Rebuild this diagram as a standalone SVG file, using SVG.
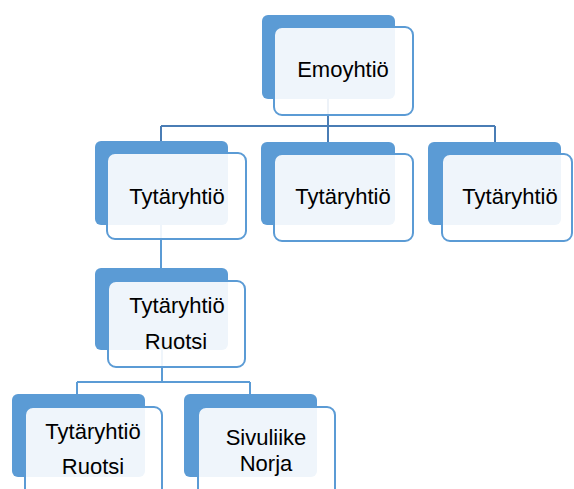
<svg xmlns="http://www.w3.org/2000/svg" width="574" height="489" viewBox="0 0 574 489">
<style>
.back{fill:#5b9bd5;}
.front{fill:#ffffff;fill-opacity:0.9;stroke:#5b9bd5;stroke-width:2;}
.lbl{font-family:"Liberation Sans",Arial,sans-serif;font-size:22px;fill:#000;text-anchor:middle;}
.c1{fill:none;stroke:#4a7db5;stroke-width:2;}
.c2{fill:none;stroke:#5b9bd5;stroke-width:2;}
</style>
<rect width="574" height="489" fill="#ffffff"/>
<g id="connectors">
<path class="c1" d="M328,98 V126 M161,126 H495 M161,126 V141 M328,126 V142 M495,126 V142"/>
<path class="c2" d="M161,225 V268 M162,350 V382 M77,382 H250 M77,382 V394 M250,382 V394"/>
</g>
<g id="emoyhtio">
<rect class="back" x="262" y="15" width="133" height="84" rx="6"/>
<rect class="front" x="274" y="27" width="139" height="88" rx="8"/>
<text class="lbl" x="343" y="77">Emoyhtiö</text>
</g>
<g id="tytar1">
<rect class="back" x="95" y="141" width="133" height="84" rx="6"/>
<rect class="front" x="107" y="153" width="139" height="86" rx="8"/>
<text class="lbl" x="177" y="204">Tytäryhtiö</text>
</g>
<g id="tytar2">
<rect class="back" x="261" y="142" width="134" height="83" rx="6"/>
<rect class="front" x="274" y="154" width="139" height="87" rx="8"/>
<text class="lbl" x="343" y="204">Tytäryhtiö</text>
</g>
<g id="tytar3">
<rect class="back" x="428" y="142" width="133" height="83" rx="6"/>
<rect class="front" x="442" y="154" width="130" height="87" rx="8"/>
<text class="lbl" x="510" y="204">Tytäryhtiö</text>
</g>
<g id="tytar-ruotsi">
<rect class="back" x="95" y="268" width="133" height="82" rx="6"/>
<rect class="front" x="108" y="281" width="137" height="86" rx="8"/>
<text class="lbl" x="177" y="313">Tytäryhtiö</text>
<text class="lbl" x="176" y="349">Ruotsi</text>
</g>
<g id="tytar-ruotsi-2">
<rect class="back" x="12" y="394" width="133" height="83" rx="6"/>
<rect class="front" x="25" y="407" width="137" height="90" rx="8"/>
<text class="lbl" x="93" y="439">Tytäryhtiö</text>
<text class="lbl" x="93" y="474">Ruotsi</text>
</g>
<g id="sivuliike-norja">
<rect class="back" x="184" y="394" width="133" height="83" rx="6"/>
<rect class="front" x="198" y="407" width="137" height="90" rx="8"/>
<text class="lbl" x="266" y="445">Sivuliike</text>
<text class="lbl" x="266" y="471">Norja</text>
</g>
</svg>
